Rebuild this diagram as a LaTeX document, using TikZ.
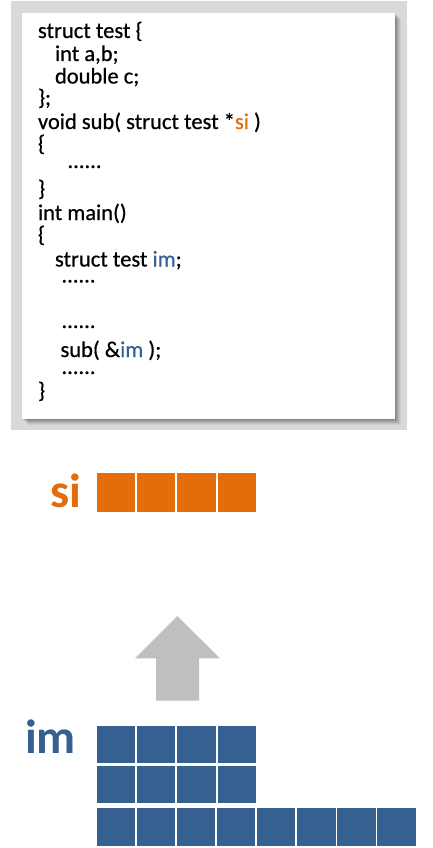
\documentclass[tikz,border=0pt]{standalone}
\usepackage{fontspec}
\setmainfont{Carlito}
\newfontface\codefont[FakeBold=0.6]{Carlito}
\definecolor{orng}{HTML}{E46C0A}
\definecolor{blu}{HTML}{376092}
\definecolor{bggray}{HTML}{D9D9D9}
\definecolor{arrgray}{HTML}{BFBFBF}
\begin{document}
\begin{tikzpicture}[x=1pt,y=-1pt,
  code/.style={anchor=base west, inner sep=0pt, outer sep=0pt, font=\codefont\fontsize{22.5}{27}\selectfont},
  biglabel/.style={anchor=base west, inner sep=0pt, outer sep=0pt, font=\fontsize{48}{56}\selectfont\bfseries},
  orcell/.style={fill=orng},
  blcell/.style={fill=blu}]
\useasboundingbox (0,0) rectangle (432,848);
% code panel
\fill[bggray] (11,1) rectangle (407,430);
\foreach \k/\o in {6/0.05,5/0.06,4/0.07,3/0.08,2/0.09,1/0.10}
  \fill[black,opacity=\o] (22+\k,13+\k) rectangle (395+\k,419+\k);
\fill[white] (22,13) rectangle (395,419);
\node[code] (l1) at (38,38) {struct test \{};
\node[code] (l2) at (55,61) {int a,b;};
\node[code] (l3) at (55,83.5) {double c;};
\node[code] (l4) at (38,105) {\};};
\node[code] (l5) at (38,129) {void sub( struct test *\textcolor{orng}{si} )};
\node[code] (l6) at (38,151) {\{};
\node[code] (l7) at (67.5,168) {......};
\node[code] (l8) at (38,196) {\}};
\node[code] (l9) at (38,220) {int main()};
\node[code] (l10) at (38,242) {\{};
\node[code] (l11) at (55,266.5) {struct test \textcolor{blu}{im};};
\node[code] (l12) at (61.5,282.5) {......};
\node[code] (l13) at (61.5,328) {......};
\node[code] (l14) at (60.5,357) {sub( \&\textcolor{blu}{im} );};
\node[code] (l15) at (61.5,374) {......};
\node[code] (l16) at (38,398) {\}};
% si
\node[biglabel, text=orng] (si) at (50,507) {si};
\foreach \i in {0,...,3}
  \fill[orcell] (96.7+40.3*\i,473.3) rectangle (96.7+40.3*\i+38.3,511.7);
% arrow
\fill[arrgray] (177.3,616) -- (220,658.3) -- (199,658.3) -- (199,700.7)
  -- (156,700.7) -- (156,658.3) -- (135,658.3) -- cycle;
% im
\node[biglabel, text=blu] (im) at (25,753) {im};
\foreach \i in {0,...,3} {
  \fill[blcell] (96.7+40.3*\i,726) rectangle (96.7+40.3*\i+38.3,763.3);
  \fill[blcell] (96.7+40.3*\i,766) rectangle (96.7+40.3*\i+38.3,803.3);
}
\foreach \i in {0,...,7}
  \fill[blcell] (96.7+40.1*\i,808.3) rectangle (96.7+40.1*\i+38.3,846);
\end{tikzpicture}
\end{document}
